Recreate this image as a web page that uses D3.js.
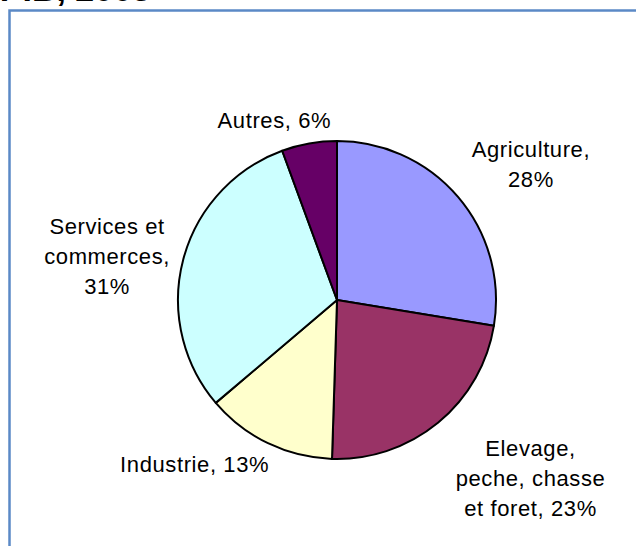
<!DOCTYPE html>
<html>
<head>
<meta charset="utf-8">
<script src="https://cdn.jsdelivr.net/npm/d3@7"></script>
<style>
  body { margin: 0; background: #fff; }
  text { font-family: Arial, "Liberation Sans", sans-serif; }
</style>
</head>
<body>
<div id="chart"></div>
<script>
// Data
const categories = ['Agriculture', 'Elevage,\npeche, chasse\net foret', 'Industrie', 'Services et\ncommerces', 'Autres'];
const values = [27.6, 22.9, 13.3, 30.6, 5.6];
const colors = ['#9999FF', '#993366', '#FFFFCC', '#CCFFFF', '#660066'];
const pctOnNewLine = [true, false, false, true, false];

// Label nudges (layout only)
const nudges = [[30, 3], [57, 12], [-49, -30], [-22, 11], [-25, 32]];

const W = 636, H = 546;
const cx = 337, cy = 300, r = 159;

const svg = d3.select('#chart')
  .append('svg')
  .attr('width', W)
  .attr('height', H);

// Frame
svg.append('rect')
  .attr('x', 9.5)
  .attr('y', 10.5)
  .attr('width', 700)
  .attr('height', 600)
  .attr('fill', 'none')
  .attr('stroke', '#5b89c6')
  .attr('stroke-width', 2.5);

// Title, clipped by the top of the window as in the source
svg.append('text')
  .attr('x', 151)
  .attr('y', 0.5)
  .attr('text-anchor', 'end')
  .attr('font-size', 34)
  .attr('font-weight', 'bold')
  .text('Répartition du PIB, 2005');

const total = d3.sum(values);
const fmt = d3.format('.0%');
const data = categories.map((c, i) => ({ name: c, value: values[i], i }));

const pie = d3.pie().sort(null).value(d => d.value);
const arc = d3.arc().innerRadius(0).outerRadius(r);
const labelArc = d3.arc().innerRadius(215).outerRadius(215);

const g = svg.append('g').attr('transform', `translate(${cx},${cy})`);
const arcs = pie(data);

g.selectAll('path')
  .data(arcs)
  .enter()
  .append('path')
  .attr('d', arc)
  .attr('fill', d => colors[d.data.i])
  .attr('stroke', '#000')
  .attr('stroke-width', 2)
  .attr('stroke-linejoin', 'round');

// Labels
const lineH = 30;
arcs.forEach(d => {
  const i = d.data.i;
  const pct = fmt(d.data.value / total);
  const text = d.data.name + ',' + (pctOnNewLine[i] ? '\n' : ' ') + pct;
  const lines = text.split('\n');
  const [lx, ly] = labelArc.centroid(d);
  const x = lx + nudges[i][0], y = ly + nudges[i][1];
  const t = g.append('text')
    .attr('text-anchor', 'middle')
    .attr('font-size', 22)
    .attr('letter-spacing', 0.6)
    .attr('fill', '#000');
  lines.forEach((ln, k) => {
    t.append('tspan')
      .attr('x', x)
      .attr('y', y + (k - (lines.length - 1) / 2) * lineH)
      .attr('dy', '0.36em')
      .text(ln);
  });
});
</script>
</body>
</html>
